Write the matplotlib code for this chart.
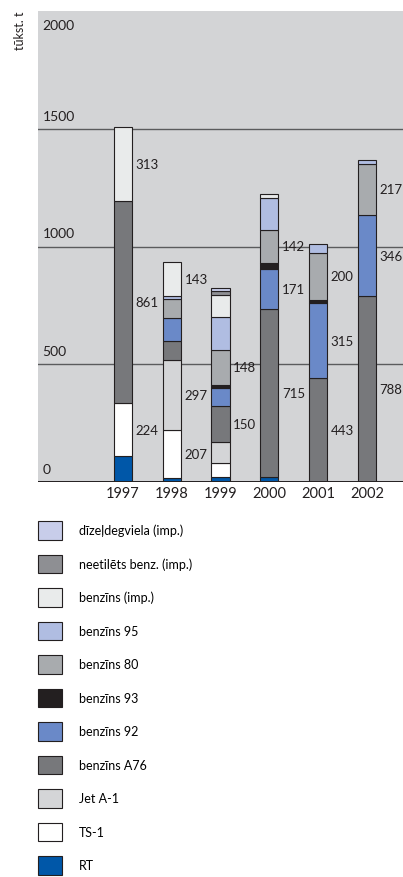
import numpy as np
import matplotlib
matplotlib.use("Agg")
import matplotlib.pyplot as plt
from matplotlib.patches import Patch

plt.rcParams['font.family'] = ['Lato', 'DejaVu Sans']

years = ['1997', '1998', '1999', '2000', '2001', '2002']

# components, bottom of stack first (thousand tonnes)
names = ['RT', 'TS-1', 'Jet A-1', 'benzīns A76', 'benzīns 92', 'benzīns 93',
         'benzīns 80', 'benzīns 95', 'benzīns (imp.)',
         'neetilēts benz. (imp.)', 'dīzeļdegviela (imp.)']
rt = [110, 15, 22, 20, 0, 0]
ts1 = [224, 207, 57, 0, 0, 0]
jet = [0, 297, 92, 0, 0, 0]
a76 = [861, 78, 150, 715, 443, 788]
b92 = [0, 98, 79, 171, 315, 346]
b93 = [0, 0, 14, 24, 16, 0]
b80 = [0, 84, 148, 142, 200, 217]
b95 = [0, 11, 139, 132, 38, 17]
benz_imp = [313, 143, 92, 17, 0, 0]
neetil = [0, 0, 17, 0, 0, 0]
dizel = [0, 0, 14, 0, 0, 0]
series = [rt, ts1, jet, a76, b92, b93, b80, b95, benz_imp, neetil, dizel]

colors = ['#0057a8', '#ffffff', '#d4d5d7', '#77787b', '#6a89c8', '#231f20',
          '#a8abae', '#b0bde2', '#e9ebeb', '#8e8f93', '#c8cdea']

fig = plt.figure(figsize=(4.03, 8.78), dpi=100)
ax = fig.add_axes([38 / 403, 1 - 483 / 878, 1 - 38 / 403, 471 / 878])
ax.set_facecolor('#d3d4d6')

x = np.arange(len(years))
width = 0.37
bottom = np.zeros(len(years))
for vals, col in zip(series, colors):
    v = np.array(vals, dtype=float)
    m = v > 0
    ax.bar(x[m], v[m], width, bottom=bottom[m], color=col,
           edgecolor='#231f20', linewidth=0.8, zorder=3)
    for xi, b, h in zip(x[m], bottom[m], v[m]):
        if h >= 140:
            ax.text(xi + 0.26, b + h / 2, f'{int(h)}', ha='left', va='center',
                    fontsize=9.5, color='#231f20', zorder=4)
    bottom += v

for g in [500, 1000, 1500]:
    ax.axhline(g, color='#5a5b5d', lw=1, zorder=1)
ax.axhline(0, color='#231f20', lw=1.4, zorder=5)

for g in [0, 500, 1000, 1500]:
    ax.text(0.012, g + 30, str(g), transform=ax.get_yaxis_transform(),
            ha='left', va='bottom', fontsize=10, color='#231f20')
ax.text(0.012, 1965, '2000', transform=ax.get_yaxis_transform(),
        ha='left', va='top', fontsize=10, color='#231f20')

ax.set_xlim(-1.74, 5.74)
ax.set_ylim(0, 2000)
ax.set_yticks([])
ax.set_xticks(x)
ax.set_xticklabels(years, fontsize=10.5, color='#231f20')
ax.tick_params(axis='x', length=0, pad=3)
for s in ax.spines.values():
    s.set_visible(False)

fig.text(20 / 403, 1 - 31 / 878, 'tūkst. t', rotation=90, ha='center',
         va='center', fontsize=9, color='#231f20')

handles = [Patch(facecolor=c, edgecolor='#231f20', linewidth=0.8, label=n)
           for n, c in zip(names, colors)][::-1]
fig.legend(handles=handles, loc='upper left',
           bbox_to_anchor=(33 / 403, 1 - 517 / 878), frameon=False,
           fontsize=9, handlelength=1.9, handleheight=1.9,
           handletextpad=1.35, labelspacing=1.2, borderaxespad=0)

fig.savefig('out.png', dpi=100)
